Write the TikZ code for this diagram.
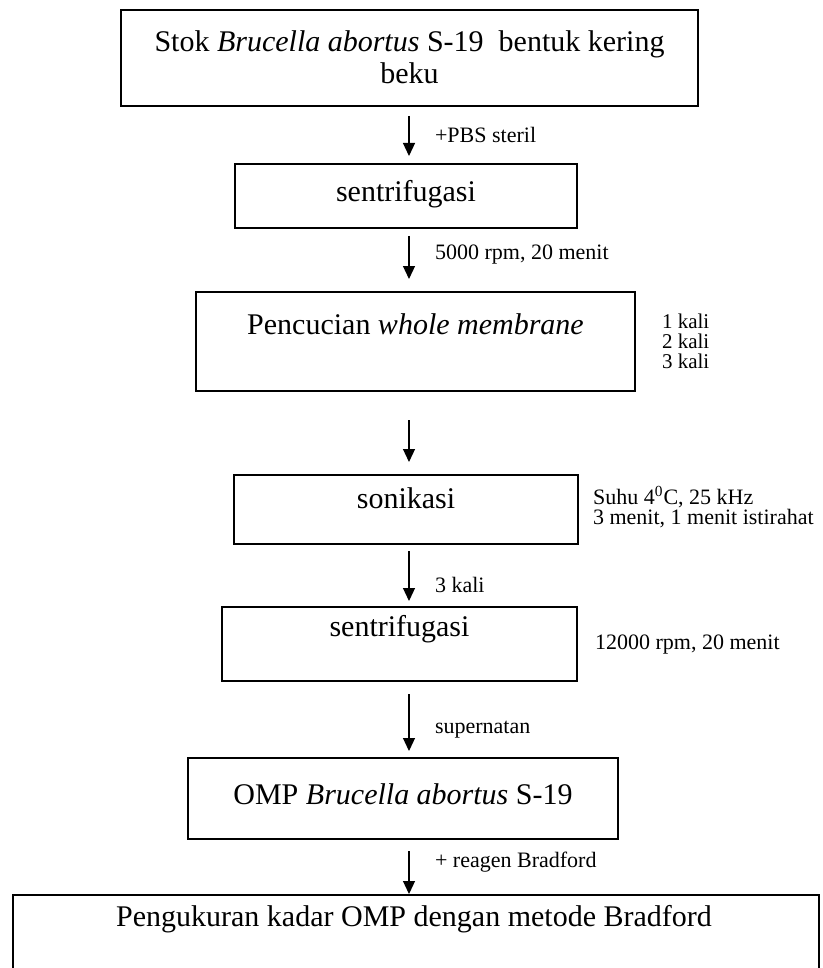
\documentclass[tikz,border=0pt]{standalone}
\usepackage{fontspec}
\setmainfont{Liberation Serif}
\usepackage{tikz}
\usetikzlibrary{arrows.meta,positioning}

\begin{document}
\begin{tikzpicture}[
        x=0.5pt, y=-0.5pt,
        stepbox/.style={draw, line width=1pt, rectangle, inner sep=0pt},
        boxtext/.style={font=\fontsize{15}{16}\selectfont, align=center},
        note/.style={anchor=west, font=\fontsize{11}{12}\selectfont},
        sidenote/.style={anchor=west, align=left, font=\fontsize{11}{10}\selectfont},
        flow/.style={semithick, -{Triangle[length=6.5pt,width=6pt]}}
    ]
        \useasboundingbox (0,0) rectangle (823,968);
        \coordinate (axis) at (409,0);

        % Boxes
        \node[stepbox, minimum width=288.5pt, minimum height=48pt] (stock) at (409.5,58) {};
        \node[stepbox, minimum width=171pt, minimum height=32pt] (spin1) at (406,196) {};
        \node[stepbox, minimum width=219.5pt, minimum height=49.5pt] (wash) at (415.5,341.5) {};
        \node[stepbox, minimum width=172pt, minimum height=34.5pt] (sonic) at (406,509.5) {};
        \node[stepbox, minimum width=177.5pt, minimum height=37pt] (spin2) at (399.5,644) {};
        \node[stepbox, minimum width=215pt, minimum height=40.5pt] (omp) at (403,798.5) {};
        \node[stepbox, minimum width=403pt, minimum height=47.5pt] (assay) at (416,942.5) {};

        % Box texts
        \node[boxtext] (stocktxt) at (409.5,57) {Stok \textit{Brucella abortus} S-19~ bentuk kering\\beku};
        \node[boxtext] (spin1txt) at (406,194) {sentrifugasi};
        \node[boxtext] (washtxt) at (415.5,324) {Pencucian \textit{whole membrane}};
        \node[boxtext] (sonictxt) at (406,498) {sonikasi};
        \node[boxtext] (spin2txt) at (399.5,629) {sentrifugasi};
        \node[boxtext] (omptxt) at (403,794) {OMP \textit{Brucella abortus} S-19};
        \node[boxtext] (assaytxt) at (414,919) {Pengukuran kadar OMP dengan metode Bradford};

        % Labels
        \node[note] (pbs) at (428,135) {+PBS steril};
        \node[note] (rpm1) at (428,255) {5000 rpm, 20 menit};
        \node[note] (thrice) at (428,585) {3 kali};
        \node[note] (super) at (428,730) {supernatan};
        \node[note] (reagen) at (428,862) {+ reagen Bradford};
        \node[sidenote, font=\fontsize{10.5}{10}\selectfont] (repeat) at (655,341) {1 kali\\2 kali\\3 kali};
        \node[sidenote] (cond) at (586,507) {Suhu 4\textsuperscript{0}C, 25 kHz\\3 menit, 1 menit istirahat};
        \node[sidenote] (rpm2) at (588,645) {12000 rpm, 20 menit};

        % Connect boxes
        \draw[flow, shorten <=4.5pt, shorten >=3.5pt] (stock.south -| axis) -- (spin1.north -| axis);
        \draw[flow, shorten <=3.5pt, shorten >=6pt] (spin1.south -| axis) -- (wash.north -| axis);
        \draw[flow, shorten <=14pt, shorten >=6pt] (wash.south -| axis) -- (sonic.north -| axis);
        \draw[flow, shorten <=3pt, shorten >=2.5pt] (sonic.south -| axis) -- (spin2.north -| axis);
        \draw[flow, shorten <=6pt, shorten >=3pt] (spin2.south -| axis) -- (omp.north -| axis);
        \draw[flow, shorten <=5.5pt] (omp.south -| axis) -- (assay.north -| axis);
    \end{tikzpicture}
\end{document}
